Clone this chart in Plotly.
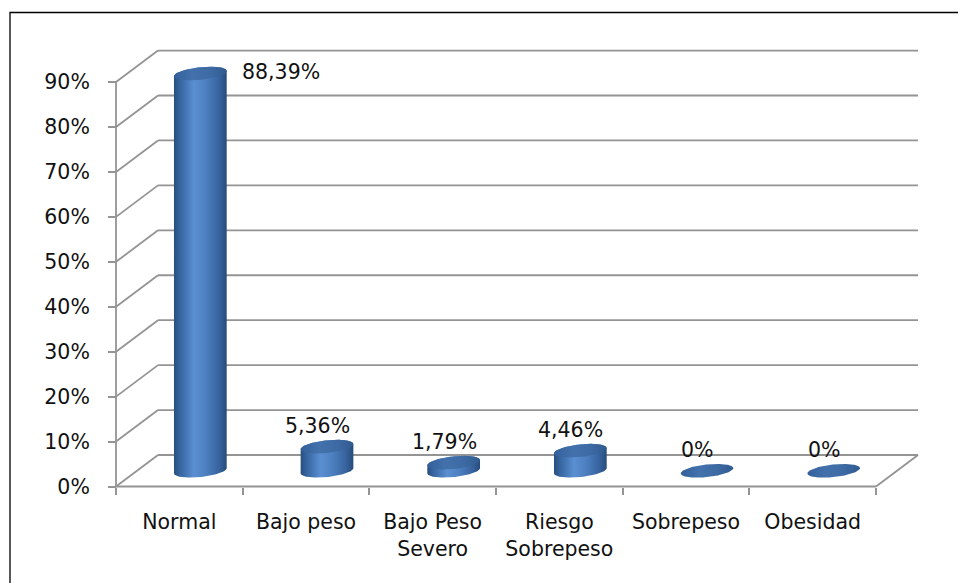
import numpy as np
import plotly.graph_objects as go

# --- data -------------------------------------------------------------
categorias = ["Normal", "Bajo peso", "Bajo Peso<br>Severo",
              "Riesgo<br>Sobrepeso", "Sobrepeso", "Obesidad"]
porcentajes = [88.39, 5.36, 1.79, 4.46, 0.0, 0.0]
marcas_y = [0, 10, 20, 30, 40, 50, 60, 70, 80, 90]
texto_y = [f"{v}%" for v in marcas_y]


def etiqueta(v):
    if v == 0:
        return "0%"
    return f"{v:.2f}".replace(".", ",") + "%"


# --- geometry of the pseudo-3D frame -----------------------------------
W, H = 958, 583
X0_PX, CAT_PX = 116.0, 126.67      # front-left corner and width of one category
Y0_PX, PCT_PX = 486.5, 4.494       # front floor line and pixels per percent
x_range = [-X0_PX / CAT_PX, (W - X0_PX) / CAT_PX]
y_range = [(Y0_PX - H) / PCT_PX, Y0_PX / PCT_PX]
DX = 42.0 / CAT_PX                 # depth offset (x units)
DY = 31.5 / PCT_PX                 # depth offset (percent units)
A, B = 26.5, 6.3                   # cylinder ellipse half axes in px
TILT = np.radians(6)
N = len(categorias)
GRID = "#949494"
FONT = dict(family="DejaVu Sans", size=20.5, color="#111111")


def elipse(cx, cy, t):
    ex, ey = A * np.cos(t), B * np.sin(t)
    rx = ex * np.cos(TILT) - ey * np.sin(TILT)
    ry = ex * np.sin(TILT) + ey * np.cos(TILT)
    return cx + rx / CAT_PX, cy + ry / PCT_PX


fig = go.Figure()

# back wall gridlines, side-wall diagonals and floor
shapes = []
line = dict(color=GRID, width=1.8)
for v in marcas_y:
    shapes.append(dict(type="line", x0=DX, y0=v + DY, x1=N + DX, y1=v + DY,
                       line=line, layer="below"))
    shapes.append(dict(type="line", x0=0, y0=v, x1=DX, y1=v + DY,
                       line=line, layer="below"))
shapes.append(dict(type="line", x0=0, y0=0, x1=0, y1=marcas_y[-1],
                   line=line, layer="below"))
shapes.append(dict(type="line", x0=N, y0=0, x1=N + DX, y1=DY,
                   line=line, layer="below"))
# outer frame
shapes.append(dict(type="rect", xref="paper", yref="paper",
                   x0=10 / W, x1=1.02, y0=-0.02, y1=1 - 12.5 / H,
                   line=dict(color="#000000", width=1.3)))

# front floor line carries the boundary ticks (x2)
fig.add_trace(go.Scatter(x=[0, N], y=[0, 0], mode="lines",
                         line=line, xaxis="x2", yaxis="y",
                         hoverinfo="skip", showlegend=False))

cuerpo = [[0, "#274f7e"], [0.12, "#3766a0"], [0.38, "#5a8fd2"],
          [0.6, "#4d80c0"], [0.85, "#3864a0"], [1, "#264c7a"]]
tapa = [[0, "#33609a"], [0.35, "#4371ab"], [0.7, "#3d6aa3"], [1, "#305b90"]]

anotaciones = []
for i, v in enumerate(porcentajes):
    cx = i + 0.5 + DX / 2
    base = DY / 2
    top = base + v
    if v > 0:
        xb, yb = elipse(cx, base, np.linspace(np.pi, 2 * np.pi, 60))
        xt, yt = elipse(cx, top, np.linspace(0, np.pi, 60))
        fig.add_trace(go.Scatter(
            x=np.concatenate([xb, xt]), y=np.concatenate([yb, yt]),
            mode="lines", fill="toself", line=dict(width=0),
            fillgradient=dict(type="horizontal", colorscale=cuerpo),
            hoverinfo="skip", showlegend=False))
    xc, yc = elipse(cx, top, np.linspace(0, 2 * np.pi, 120))
    fig.add_trace(go.Scatter(
        x=xc, y=yc, mode="lines", fill="toself", line=dict(width=0),
        fillgradient=dict(type="horizontal", colorscale=tapa),
        hoverinfo="skip", showlegend=False))

    if v > 0.8 * marcas_y[-1]:
        anotaciones.append(dict(x=cx + A / CAT_PX, y=top, text=etiqueta(v),
                                showarrow=False, xanchor="left",
                                yanchor="middle", xshift=13, yshift=2,
                                font=FONT))
    else:
        anotaciones.append(dict(x=cx, y=top, text=etiqueta(v),
                                showarrow=False, xanchor="center",
                                yanchor="middle", xshift=-9.5, yshift=21,
                                font=FONT))

fig.update_layout(
    width=W, height=H,
    margin=dict(l=0, r=0, t=0, b=0),
    paper_bgcolor="white", plot_bgcolor="white",
    shapes=shapes, annotations=anotaciones, showlegend=False,
    xaxis=dict(range=x_range, domain=[0, 1], anchor="free",
               position=(H - Y0_PX) / H, showgrid=False, zeroline=False,
               showline=False, ticks="", tickvals=[i + 0.5 for i in range(N)],
               ticktext=categorias, tickfont=FONT, ticklabelstandoff=21,
               fixedrange=True, automargin=False),
    xaxis2=dict(range=x_range, domain=[0, 1], overlaying="x", anchor="free",
                position=(H - Y0_PX) / H, showgrid=False, zeroline=False,
                showline=False, ticks="outside", ticklen=7, tickwidth=1.8,
                tickcolor=GRID, tickvals=list(range(N + 1)),
                showticklabels=False, fixedrange=True, automargin=False),
    yaxis=dict(range=y_range, domain=[0, 1], anchor="free",
               position=X0_PX / W, showgrid=False, zeroline=False,
               showline=False, ticks="outside", ticklen=8, tickwidth=1.8,
               tickcolor=GRID, tickvals=marcas_y, ticktext=texto_y,
               tickfont=FONT, ticklabelstandoff=14, fixedrange=True,
               automargin=False),
)

fig.write_html("out.html")
